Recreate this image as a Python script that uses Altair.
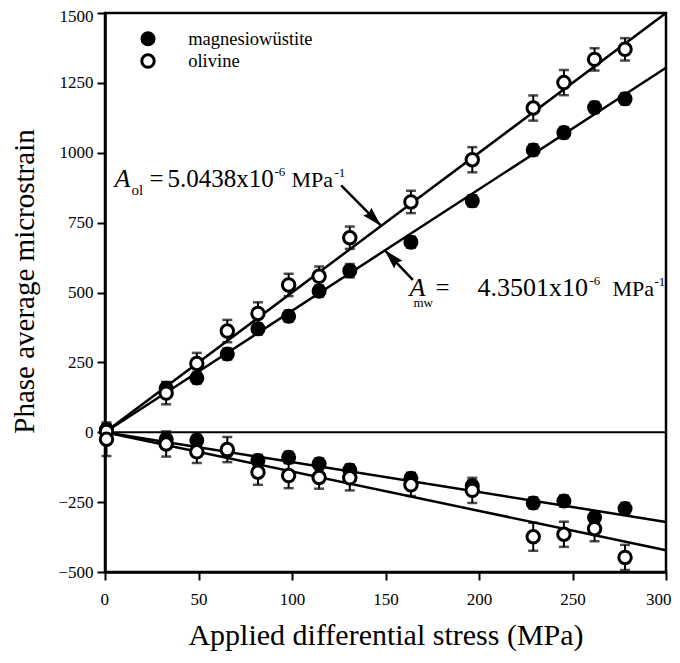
import altair as alt
import pandas as pd

# ---------------- data ----------------
stress = [0.8, 32.7, 49.1, 65.4, 81.8, 98.2, 114.5, 130.9, 163.6, 196.4, 229.0, 245.4, 261.8, 278.1]

mw_pos = [10, 157, 194, 280, 370, 415, 505, 578, 680, 828, 1010, 1072, 1162, 1193]
ol_pos = [3, 140, 246, 362, 425, 527, 558, 696, 824, 975, 1160, 1251, 1334, 1370]
mw_neg = [5, -25, -29, -65, -101, -90, -113, -135, -165, -192, -253, -246, -305, -273]
ol_neg = [-25, -42, -70, -62, -143, -155, -162, -163, -188, -208, -374, -365, -345, -448]

mw_pos_err = [18, 20, 20, 20, 20, 20, 20, 24, 20, 20, 20, 20, 20, 20]
ol_pos_err = [25, 40, 38, 40, 40, 40, 35, 40, 40, 45, 45, 45, 40, 40]
mw_neg_err = [18, 20, 20, 20, 20, 20, 20, 20, 20, 20, 20, 20, 20, 20]
ol_neg_err = [60, 45, 40, 45, 45, 45, 40, 45, 40, 45, 50, 45, 45, 45]

fit_x = [0, 300]
fit_mw_pos = [0, 1304]
fit_ol_pos = [0, 1500]
fit_mw_neg = [0, -321]
fit_ol_neg = [0, -422]

x_ticks = [0, 50, 100, 150, 200, 250, 300]
y_ticks = [-500, -250, 0, 250, 500, 750, 1000, 1250, 1500]

legend_labels = ["magnesiowüstite", "olivine"]
legend_y = [1408, 1328]
legend_x = 23
legend_text_x = 44.5

FONT = "Liberation Serif"

xs = alt.Scale(domain=[0, 300], nice=False, zero=False)
ys = alt.Scale(domain=[-500, 1500], nice=False, zero=False)


def series(vals, errs, phase):
    return pd.DataFrame({
        "x": stress, "y": vals,
        "lo": [v - e for v, e in zip(vals, errs)],
        "hi": [v + e for v, e in zip(vals, errs)],
        "phase": phase,
    })


mw = pd.concat([series(mw_pos, mw_pos_err, "mw"), series(mw_neg, mw_neg_err, "mw")])
ol = pd.concat([series(ol_pos, ol_pos_err, "ol"), series(ol_neg, ol_neg_err, "ol")])

fits = pd.concat([
    pd.DataFrame({"x": fit_x, "y": fit_mw_pos, "g": "mwp"}),
    pd.DataFrame({"x": fit_x, "y": fit_ol_pos, "g": "olp"}),
    pd.DataFrame({"x": fit_x, "y": fit_mw_neg, "g": "mwn"}),
    pd.DataFrame({"x": fit_x, "y": fit_ol_neg, "g": "oln"}),
])

X = lambda f="x": alt.X(f"{f}:Q", scale=xs)
Y = lambda f="y": alt.Y(f"{f}:Q", scale=ys)

base_axes = alt.Chart(pd.DataFrame({"x": [0], "y": [0]})).mark_point(opacity=0).encode(
    x=alt.X("x:Q", scale=xs, axis=alt.Axis(values=x_ticks, format="d", labelPadding=11,
                                          labelFlush=True, labelFlushOffset=5,
                                          title="Applied differential stress (MPa)",
                                          titleFontSize=30, titleY=72, titleBaseline="alphabetic")),
    y=alt.Y("y:Q", scale=ys, axis=alt.Axis(values=y_ticks, format="d", labelPadding=4,
                                          labelFlush=False,
                                          labelOffset={"condition": {"test": "datum.value == 1500", "value": 3},
                                                       "value": 0},
                                          title="Phase average microstrain",
                                          titleFontSize=29, titleX=-72, titleY=268,
                                          titleBaseline="alphabetic", titleAngle=270)),
)

zero_line = alt.Chart(pd.DataFrame({"y": [0]})).mark_rule(color="black", strokeWidth=2).encode(y=Y())

fit_lines = alt.Chart(fits).mark_line(color="black", strokeWidth=2.5).encode(
    x=X(), y=Y(), detail="g:N")


def err_layers(df):
    c = alt.Chart(df)
    rule = c.mark_rule(color="black", strokeWidth=2).encode(x=X(), y=Y("lo"), y2="hi:Q")
    lo = c.mark_tick(color="black", orient="horizontal", size=10, thickness=2.5).encode(x=X(), y=Y("lo"))
    hi = c.mark_tick(color="black", orient="horizontal", size=10, thickness=2.5).encode(x=X(), y=Y("hi"))
    return [rule, lo, hi]


mw_pts = alt.Chart(mw).mark_point(shape="circle", filled=True, fill="black", size=227, opacity=1,
                                  strokeWidth=0).encode(x=X(), y=Y())
ol_pts = alt.Chart(ol).mark_point(shape="circle", filled=True, fill="white", stroke="black",
                                  strokeWidth=3, size=155, opacity=1).encode(x=X(), y=Y())

# legend
leg_df = pd.DataFrame({"x": [legend_x, legend_x], "y": legend_y, "lab": legend_labels,
                       "tx": [legend_text_x, legend_text_x]})
leg_mw = alt.Chart(leg_df.iloc[[0]]).mark_point(shape="circle", filled=True, fill="black", size=227,
                                                opacity=1, strokeWidth=0).encode(x=X(), y=Y())
leg_ol = alt.Chart(leg_df.iloc[[1]]).mark_point(shape="circle", filled=True, fill="white", stroke="black",
                                                strokeWidth=3, size=155, opacity=1).encode(x=X(), y=Y())
leg_txt = alt.Chart(leg_df).mark_text(font=FONT, fontSize=18.5, align="left", baseline="middle",
                                      color="black").encode(x=X("tx"), y=Y(), text="lab:N")

# annotations (anchor in data units, offsets of pieces in px)
ann_ol_anchor = (5.1, 877)
ann_ol_pieces = [("A", 0, 0, 26, "italic"), ("ol", 17, 8, 15, "normal"), ("=", 35, 0, 25, "normal"),
                 ("5.0438x10", 53, 0, 25, "normal"), ("-6", 160, -11, 13, "normal"),
                 ("MPa", 177, 0, 22, "normal"), ("-1", 220, -10, 13, "normal")]
ann_mw_anchor = (162.8, 486)
ann_mw_pieces = [("A", 0, 0, 26, "italic"), ("mw", 4, 11, 13, "normal"), ("=", 26, 0, 25, "normal"),
                 ("4.3501x10", 68, 0, 26, "normal"), ("-6", 180, -11, 13, "normal"),
                 ("MPa", 203, 0, 22, "normal"), ("-1", 245, -10, 13, "normal")]


def ann_layers(anchor, pieces):
    out = []
    for t, dx, dy, fs, st in pieces:
        df = pd.DataFrame({"x": [anchor[0]], "y": [anchor[1]], "t": [t]})
        out.append(alt.Chart(df).mark_text(font=FONT, fontSize=fs, fontStyle=st, align="left",
                                           baseline="alphabetic", dx=dx, dy=dy, color="black")
                   .encode(x=X(), y=Y(), text="t:N"))
    return out


# arrows: start -> tip (data units)
arrow_start_x = [126.3, 164.6]
arrow_start_y = [883, 545]
arrow_tip_x = [147.7, 149.5]
arrow_tip_y = [738, 652]
arrow_angle = [135.7, 316.7]
arr = pd.DataFrame({"x": arrow_start_x, "y": arrow_start_y, "x2": arrow_tip_x, "y2": arrow_tip_y,
                    "ang": arrow_angle})
arrow_shafts = alt.Chart(arr).mark_rule(color="black", strokeWidth=2.5).encode(
    x=X(), y=Y(), x2="x2:Q", y2="y2:Q")
arrow_heads = alt.Chart(arr).mark_point(shape="M0,0L-0.28,1.0L0,0.88L0.28,1.0Z", filled=True, fill="black",
                                        size=1600, opacity=1, strokeWidth=0).encode(
    x=X("x2"), y=Y("y2"), angle=alt.Angle("ang:Q", scale=None))

layers = [base_axes, zero_line, fit_lines] + err_layers(mw) + [mw_pts] + err_layers(ol) + [ol_pts] + \
    [leg_mw, leg_ol, leg_txt, arrow_shafts, arrow_heads] + \
    ann_layers(ann_ol_anchor, ann_ol_pieces) + ann_layers(ann_mw_anchor, ann_mw_pieces)

chart = alt.layer(*layers).properties(
    width=561, height=559,
    autosize=alt.AutoSizeParams(type="none"),
    padding={"left": 97, "top": 5, "right": 6, "bottom": 80},
    background="white",
).configure(font=FONT).configure_view(stroke="black", strokeWidth=2.5).configure_axis(
    grid=False, labelFont=FONT, titleFont=FONT, labelFontSize=17, labelColor="black",
    titleColor="black", titleFontWeight="normal", tickColor="black", tickWidth=2, tickSize=8,
    domainColor="black", domainWidth=2.5, labelOverlap=False,
)

chart.save("out.html", embed_options={"renderer": "svg", "actions": False})
